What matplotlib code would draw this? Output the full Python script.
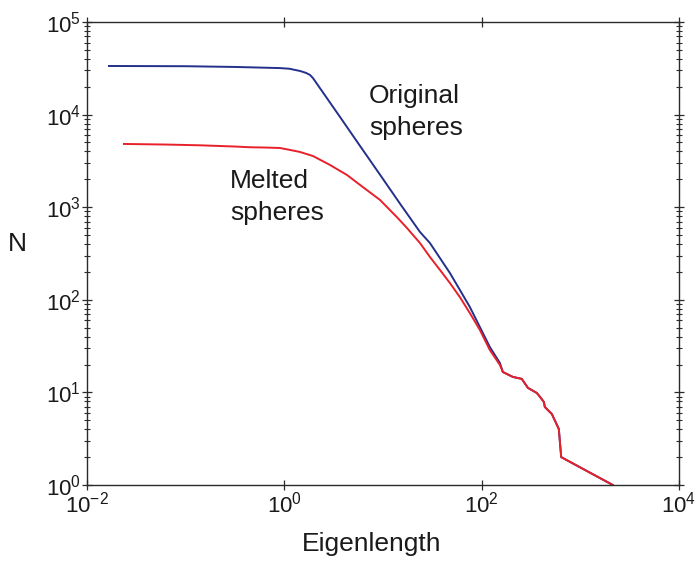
import matplotlib
matplotlib.use("Agg")
import matplotlib.pyplot as plt
from matplotlib.ticker import FixedLocator, NullLocator, LogFormatterSciNotation, NullFormatter

plt.rcdefaults()
plt.rcParams['font.family'] = ['Liberation Sans', 'DejaVu Sans']
plt.rcParams['mathtext.default'] = 'regular'

# ---- data ----
orig_x = [0.0167, 0.1, 0.316, 0.90, 1.12, 1.44, 1.66, 1.82, 1.95, 3.66, 5.83, 9.31,
          14.8, 23.7, 29.9, 37.8, 47.6, 60.1, 75.9, 95.9, 121, 153,
          164, 207, 255, 294, 362, 398, 427, 437, 514, 605, 640, 2133]
orig_n = [33500, 33300, 32700, 31800, 31300, 29600, 28200, 26800, 24800, 9460, 4610, 2250,
          1100, 540, 410, 282, 195, 128, 83.6, 50.8, 30.9, 20.8,
          16.6, 14.7, 14.0, 11.2, 9.86, 8.71, 7.87, 6.95, 5.85, 4.03, 2.0, 1.0]

melt_x = [0.0237, 0.063, 0.140, 0.316, 0.448, 0.63, 0.902, 1.12, 1.44, 1.95, 2.90, 4.31,
          6.25, 9.31, 13.8, 17.5, 23.7, 29.9, 37.8, 47.6, 60.1, 75.9, 95.9, 121, 153,
          164, 207, 255, 294, 362, 398, 427, 437, 514, 605, 640, 2133]
melt_n = [4820, 4750, 4660, 4520, 4440, 4410, 4360, 4170, 3950, 3570, 2860, 2230,
          1650, 1200, 783, 596, 410, 290, 210, 152, 107, 71.9, 47.2, 28.7, 19.8,
          16.6, 14.7, 14.0, 11.2, 9.86, 8.71, 7.87, 6.95, 5.85, 4.03, 2.0, 1.0]

x_ticks = [1e-2, 1e0, 1e2, 1e4]
y_ticks = [1e0, 1e1, 1e2, 1e3, 1e4, 1e5]

fig, ax = plt.subplots(figsize=(6.95, 5.61), dpi=100)
fig.subplots_adjust(left=87/695, right=679/695, bottom=1-485/561, top=1-22/561)

ax.plot(orig_x, orig_n, color='#23308c', lw=1.4, solid_joinstyle='round')
ax.plot(melt_x, melt_n, color='#e8202a', lw=1.4, solid_joinstyle='round')

ax.set_xscale('log')
ax.set_yscale('log')
ax.set_xlim(1e-2, 1e4)
ax.set_ylim(1e0, 1e5)
ax.xaxis.set_major_locator(FixedLocator(x_ticks))
ax.yaxis.set_major_locator(FixedLocator(y_ticks))
ax.xaxis.set_major_formatter(LogFormatterSciNotation())
ax.yaxis.set_major_formatter(LogFormatterSciNotation())
ax.xaxis.set_minor_locator(NullLocator())
minor_y = [m * d for d in y_ticks[:-1] for m in range(2, 10)]
ax.yaxis.set_minor_locator(FixedLocator(minor_y))
ax.yaxis.set_minor_formatter(NullFormatter())

for s in ax.spines.values():
    s.set_linewidth(1.0)
    s.set_color('#2a2a2a')

ax.tick_params(which='major', length=7, width=0.9, color='#2a2a2a', direction='inout',
               top=True, right=True, labelcolor='#1a1a1a', labelsize=16)
ax.tick_params(which='minor', length=4, width=0.8, color='#2a2a2a', direction='inout',
               left=True, right=True)
ax.tick_params(axis='x', which='major', pad=1)
ax.tick_params(axis='y', which='major', pad=1)

ax.set_xlabel('Eigenlength', fontsize=19, color='#1a1a1a')
ax.xaxis.set_label_coords(0.481, -0.1015)
ax.set_ylabel('N', fontsize=19, color='#1a1a1a', rotation=0, ha='center', va='center')
ax.yaxis.set_label_coords(-0.1174, 0.5195)

ax.text(7.2, 13330, 'Original', fontsize=19, color='#1a1a1a', va='baseline', ha='left')
ax.text(7.2, 6030, 'spheres', fontsize=19, color='#1a1a1a', va='baseline', ha='left')
ax.text(0.281, 1610, 'Melted', fontsize=19, color='#1a1a1a', va='baseline', ha='left')
ax.text(0.281, 728, 'spheres', fontsize=19, color='#1a1a1a', va='baseline', ha='left')

fig.savefig('out.png', dpi=100)
